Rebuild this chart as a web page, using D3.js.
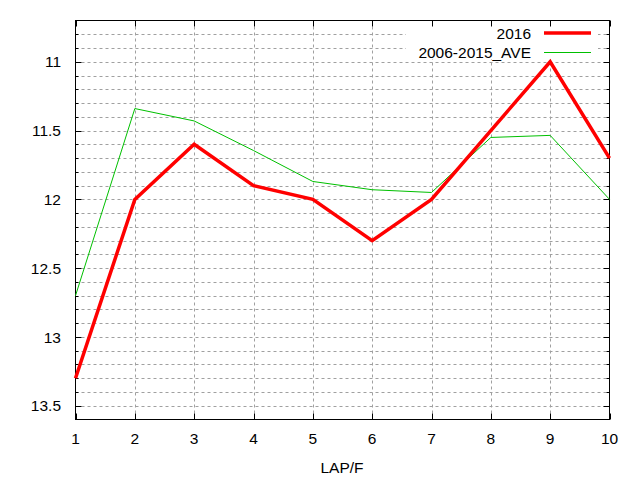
<!DOCTYPE html>
<html>
<head>
<meta charset="utf-8">
<script src="https://cdn.jsdelivr.net/npm/d3@7"></script>
<style>
  html, body { margin: 0; padding: 0; background: #fff; }
  svg { display: block; }
  text { font-family: "Liberation Sans", Arial, sans-serif; font-size: 15.5px; fill: #000; }
</style>
</head>
<body>
<svg id="chart" width="640" height="480"></svg>
<script>
const laps = [1, 2, 3, 4, 5, 6, 7, 8, 9, 10];
const series2016 = [13.3, 12.0, 11.6, 11.9, 12.0, 12.3, 12.0, 11.5, 11.0, 11.7];
const seriesAve = [12.7, 11.34, 11.43, 11.645, 11.87, 11.93, 11.95, 11.55, 11.535, 12.0];
const yMajorTicks = [11, 11.5, 12, 12.5, 13, 13.5];
const yTickLabels = ["11", "11.5", "12", "12.5", "13", "13.5"];
const xTickLabels = ["1", "2", "3", "4", "5", "6", "7", "8", "9", "10"];
const legendLabels = ["2016", "2006-2015_AVE"];
const xTitle = "LAP/F";

const W = 640, H = 480;
const L = 75.5, R = 609.5, T = 20.5, B = 419.5;
const svg = d3.select("#chart");

const x = d3.scaleLinear().domain([1, 10]).range([L, R]);
const y = d3.scaleLinear().domain([10.7, 13.6]).range([T, B]);

const yMinor = d3.range(108, 136).map(v => v / 10);

// grid
const grid = svg.append("g").attr("stroke", "#a0a0a0").attr("stroke-width", 1)
  .attr("stroke-dasharray", "3,3").attr("fill", "none");
yMinor.forEach(v => {
  const yy = Math.round(y(v)) + 0.5;
  grid.append("line").attr("x1", L).attr("x2", R).attr("y1", yy).attr("y2", yy);
});
laps.slice(1, -1).forEach(v => {
  const xx = Math.round(x(v)) + 0.5;
  grid.append("line").attr("x1", xx).attr("x2", xx).attr("y1", T).attr("y2", B);
});

// legend background
svg.append("rect").attr("x", 406).attr("y", 24).attr("width", 192).attr("height", 35).attr("fill", "#fff");

// ticks
const ticks = svg.append("g").attr("stroke", "#000").attr("stroke-width", 1);
yMinor.forEach(v => {
  const yy = Math.round(y(v)) + 0.5;
  const major = yMajorTicks.some(m => Math.abs(m - v) < 1e-6);
  const len = major ? 6 : 3;
  ticks.append("line").attr("x1", L).attr("x2", L + len).attr("y1", yy).attr("y2", yy);
  ticks.append("line").attr("x1", R).attr("x2", R - len).attr("y1", yy).attr("y2", yy);
});
laps.forEach(v => {
  const xx = Math.round(x(v)) + 0.5;
  ticks.append("line").attr("x1", xx).attr("x2", xx).attr("y1", B).attr("y2", B - 6);
  ticks.append("line").attr("x1", xx).attr("x2", xx).attr("y1", T).attr("y2", T + 6);
});

// frame
svg.append("rect").attr("x", L).attr("y", T).attr("width", R - L).attr("height", B - T)
  .attr("fill", "none").attr("stroke", "#000").attr("stroke-width", 1);

// tick labels
yMajorTicks.forEach((v, i) => {
  svg.append("text").attr("x", 61).attr("y", y(v)).attr("dy", "0.36em")
    .attr("text-anchor", "end").text(yTickLabels[i]);
});
laps.forEach((v, i) => {
  svg.append("text").attr("x", x(v)).attr("y", 444)
    .attr("text-anchor", "middle").text(xTickLabels[i]);
});
svg.append("text").attr("x", 342).attr("y", 473).attr("text-anchor", "middle").text(xTitle);

// lines
const line = d3.line().x((d, i) => x(laps[i])).y(d => y(d));
svg.append("path").datum(seriesAve).attr("d", line).attr("fill", "none")
  .attr("stroke", "#00c000").attr("stroke-width", 1);
svg.append("path").datum(series2016).attr("d", line).attr("fill", "none")
  .attr("stroke", "#ff0000").attr("stroke-width", 3.5).attr("stroke-linejoin", "miter");

// legend
svg.append("text").attr("x", 531).attr("y", 33).attr("dy", "0.36em").attr("text-anchor", "end").text(legendLabels[0]);
svg.append("line").attr("x1", 544).attr("x2", 591).attr("y1", 33).attr("y2", 33)
  .attr("stroke", "#ff0000").attr("stroke-width", 3.5);
svg.append("text").attr("x", 531).attr("y", 52).attr("dy", "0.36em").attr("text-anchor", "end").text(legendLabels[1]);
svg.append("line").attr("x1", 544).attr("x2", 591).attr("y1", 52.5).attr("y2", 52.5)
  .attr("stroke", "#00c000").attr("stroke-width", 1);
</script>
</body>
</html>
